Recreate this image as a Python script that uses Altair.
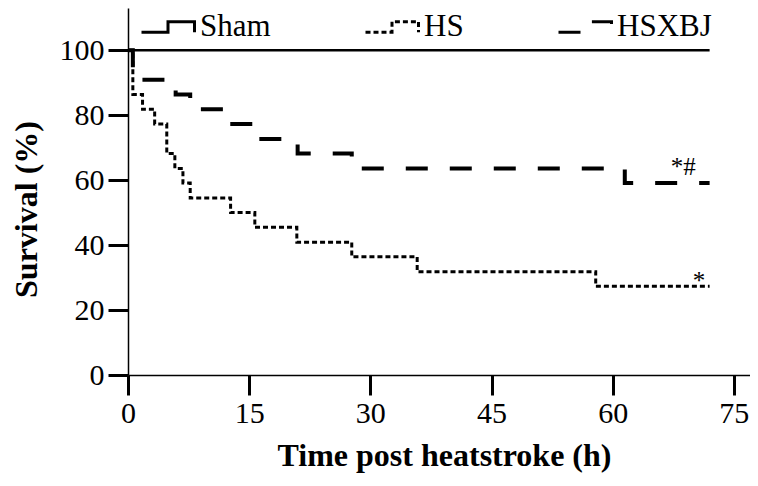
import altair as alt
import pandas as pd

# ---- data ----
groups = ["Sham", "HS", "HSXBJ"]

sham_t = [0, 72]
sham_s = [100, 100]

hs_t = [0, 0.6, 1.8, 3.3, 4.8, 5.8, 6.8, 7.7, 12.7, 15.7, 20.9, 27.7, 35.8, 57.9, 72]
hs_s = [100, 86.4, 81.8, 77.3, 68.2, 63.6, 59.1, 54.5, 50.0, 45.5, 40.9, 36.4, 31.8, 27.3, 27.3]

hsxbj_t = [0, 0.6, 5.9, 7.7, 12.4, 15.9, 21.0, 27.7, 61.5, 72]
hsxbj_s = [100, 90.9, 86.4, 81.8, 77.3, 72.7, 68.2, 63.6, 59.1, 59.1]

ann_t = [67.2, 69.9]
ann_s = [61.6, 26.5]
ann_text = ["*#", "*"]

x_ticks = [0, 15, 30, 45, 60, 75]
y_ticks = [0, 20, 40, 60, 80, 100]

# ---- build tables ----
def frame(name, t, s):
    return pd.DataFrame({"group": name, "t": t, "s": s})

df_sham = frame("Sham", sham_t, sham_s)
df_hs = frame("HS", hs_t, hs_s)
df_hsxbj = frame("HSXBJ", hsxbj_t, hsxbj_s)
df_ann = pd.DataFrame({"t": ann_t, "s": ann_s, "label": ann_text})

SERIF = "Liberation Serif"

x_enc = alt.X("t:Q", scale=alt.Scale(domain=[0, 77], nice=False, zero=False),
              axis=alt.Axis(values=x_ticks, title="Time post heatstroke (h)", grid=False,
                            tickSize=20, tickWidth=3, tickColor="black",
                            domainWidth=1.5, domainColor="black",
                            labelFont=SERIF, labelFontSize=30, labelColor="black",
                            labelPadding=3, labelFlush=False,
                            titleFont=SERIF, titleFontSize=32, titleFontWeight="bold",
                            titleColor="black", titleX=316, titleY=90,
                            titleBaseline="alphabetic"))
y_enc = alt.Y("s:Q", scale=alt.Scale(domain=[0, 113], nice=False, zero=False),
              axis=alt.Axis(values=y_ticks, title="Survival (%)", grid=False,
                            tickSize=20, tickWidth=3, tickColor="black",
                            domainWidth=1.5, domainColor="black",
                            labelFont=SERIF, labelFontSize=30, labelColor="black",
                            labelPadding=4, labelFlush=False,
                            titleFont=SERIF, titleFontSize=32, titleFontWeight="bold",
                            titleColor="black", titleX=-92, titleY=201,
                            titleAngle=270, titleBaseline="alphabetic"))

dash_scale = alt.Scale(domain=groups, range=[[1, 0], [5, 3], [22, 22]])
legend = alt.Legend(title=None, orient="none", legendX=12, legendY=-9,
                    direction="horizontal", padding=0,
                    symbolType="M-1,0.2H0V-0.2H1V0.2", symbolSize=2809,
                    symbolStrokeWidth=3, symbolStrokeColor="black",
                    symbolFillColor="transparent",
                    labelFont=SERIF, labelFontSize=31, labelColor="black",
                    labelOffset=4, columnPadding=88)

def line_layer(df, width):
    return alt.Chart(df).mark_line(interpolate="step-after", color="black",
                                   strokeWidth=width, strokeCap="butt").encode(
        x=x_enc, y=y_enc,
        strokeDash=alt.StrokeDash("group:N", scale=dash_scale, legend=legend),
    )

sham = line_layer(df_sham, 2.5)
hs = line_layer(df_hs, 3)
hsxbj = line_layer(df_hsxbj, 4)

ann = alt.Chart(df_ann).mark_text(align="left", baseline="alphabetic", font=SERIF,
                                  fontSize=25, color="black").encode(
    x=alt.X("t:Q"), y=alt.Y("s:Q"), text="label:N")

chart = alt.layer(sham, hs, hsxbj, ann).properties(
    width=622, height=367,
    autosize=alt.AutoSizeParams(type="none"),
    padding={"left": 120, "top": 0, "right": 0, "bottom": 100},
    background="white",
).configure_view(stroke=None)

chart.save("out.html", embed_options={"renderer": "svg", "actions": False})
